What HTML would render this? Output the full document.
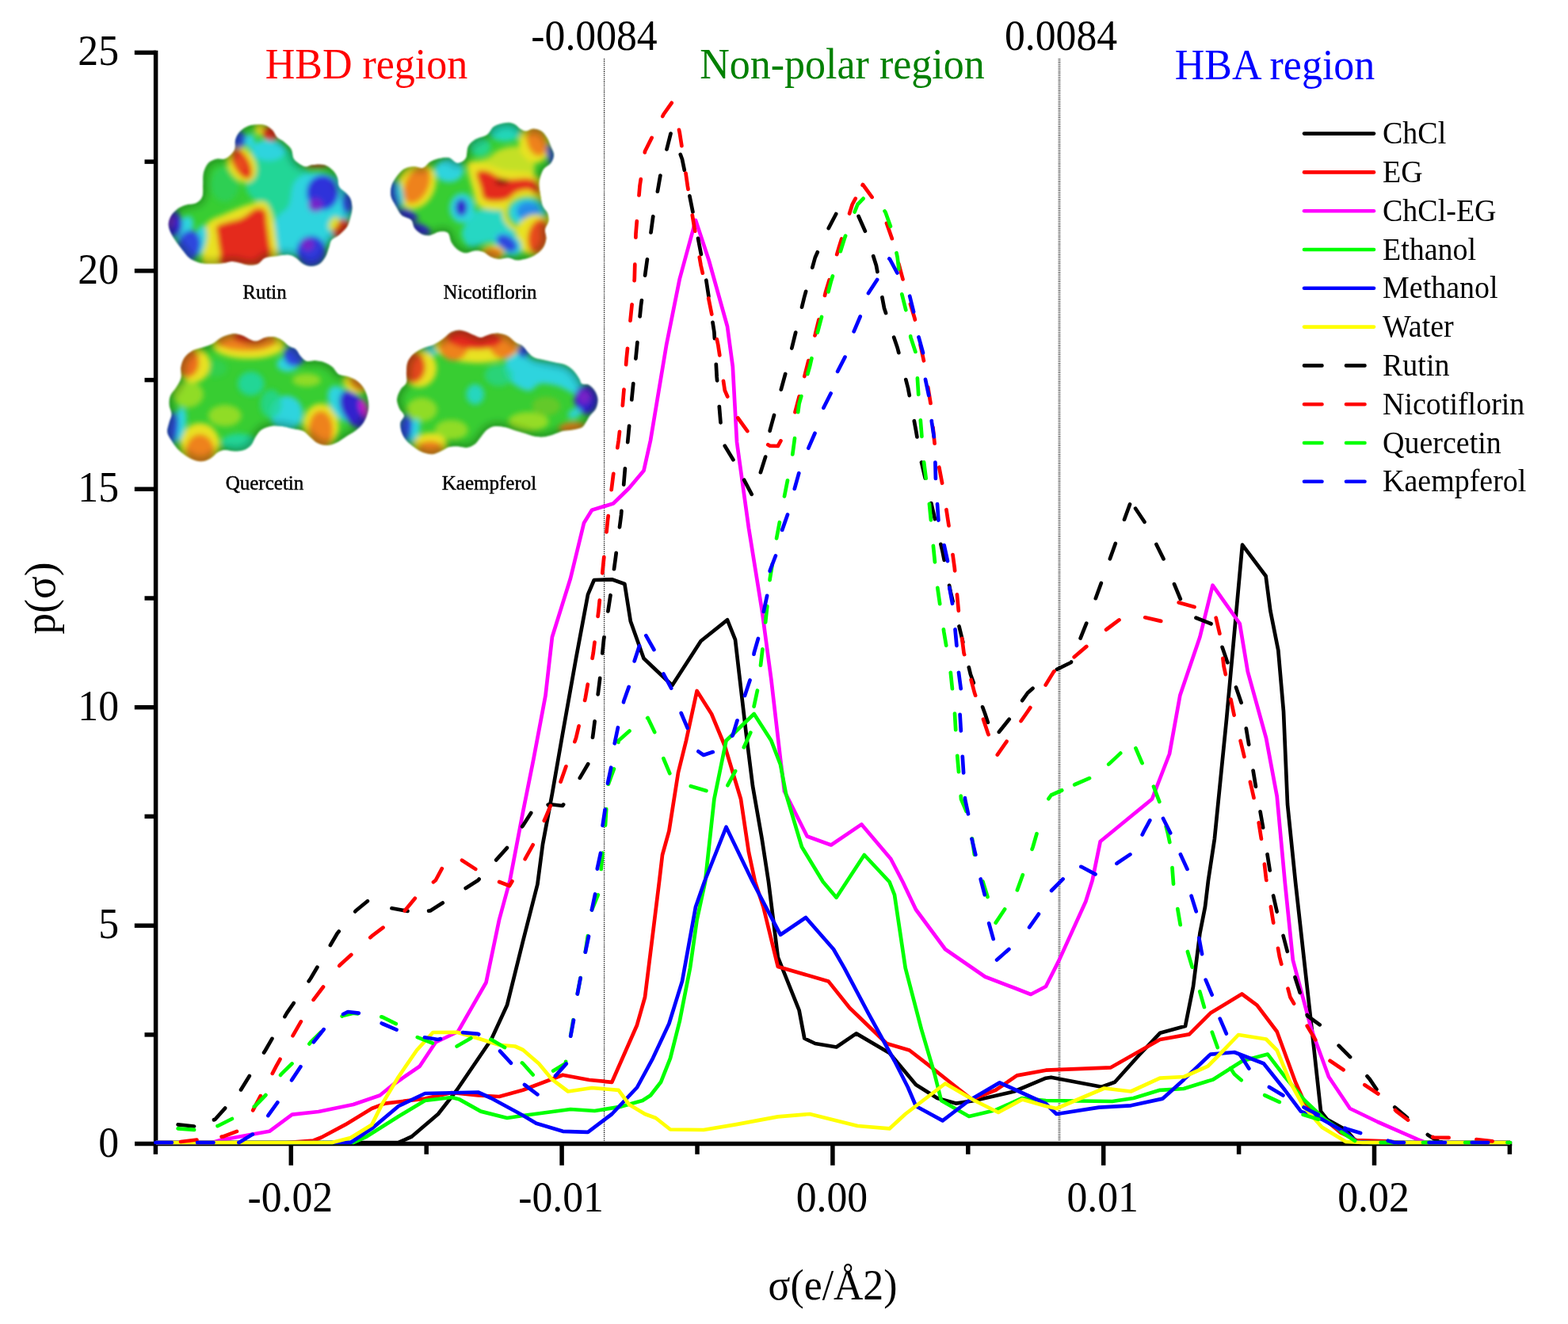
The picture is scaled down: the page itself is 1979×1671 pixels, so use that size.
<!DOCTYPE html>
<html lang="en"><head><meta charset="utf-8"><title>Sigma profiles</title>
<style>html,body{margin:0;padding:0;background:#fff}body{width:1979px;height:1671px;overflow:hidden}svg{display:block}text{font-family:"Liberation Serif","DejaVu Serif",serif;fill:#000}.tk{font-size:51.7px}.lg{font-size:38px}.rg{font-size:52px}.ml{font-size:25px;stroke:#000;stroke-width:0.45px}.c{fill:none;stroke-width:4.7;stroke-linejoin:round;stroke-linecap:butt}.d{stroke-dasharray:22 31.6;stroke-linecap:round}.dd{fill:none;stroke-width:4.7;stroke-linejoin:round;stroke-linecap:round}</style></head><body>
<svg width="1979" height="1671" viewBox="0 0 1979 1671">
<rect width="1979" height="1671" fill="#fff"/>
<defs><filter id="fb" x="-20%" y="-20%" width="140%" height="140%"><feGaussianBlur stdDeviation="3"/></filter><filter id="fs" x="-10%" y="-10%" width="120%" height="120%"><feGaussianBlur stdDeviation="1.3"/></filter><filter id="fe" x="-10%" y="-10%" width="120%" height="120%"><feGaussianBlur stdDeviation="5"/></filter>
<clipPath id="c_rutin"><path d="M324.1 157.2C327.6 157.1 331.4 156.8 334.6 157.9C337.9 159.1 341.1 161.4 343.6 163.9C346.1 166.4 347.1 170.4 349.6 172.9C352.1 175.4 355.5 176.4 358.5 178.9C361.5 181.4 365.5 184.4 367.5 187.9C369.5 191.4 369.0 196.8 370.5 199.8C372.0 202.8 374.0 204.1 376.5 205.8C379.0 207.6 382.5 209.9 385.5 210.3C388.5 210.7 390.4 208.4 394.4 208.1C398.4 207.7 405.2 206.9 409.4 208.1C413.6 209.2 417.1 212.2 419.9 214.8C422.6 217.4 424.5 220.3 425.8 223.8C427.2 227.2 426.3 232.5 428.1 235.7C429.8 239.0 433.9 240.7 436.3 243.2C438.7 245.7 440.9 247.4 442.3 250.7C443.7 253.9 444.5 258.7 444.5 262.6C444.5 266.6 443.4 270.6 442.3 274.6C441.2 278.6 440.3 282.8 437.8 286.6C435.3 290.3 430.6 294.3 427.3 297.0C424.1 299.8 420.4 300.5 418.4 303.0C416.4 305.5 416.6 308.5 415.4 312.0C414.1 315.5 412.9 320.5 410.9 324.0C408.9 327.5 406.4 330.9 403.4 332.9C400.4 334.9 396.4 335.9 392.9 335.9C389.5 335.9 385.7 334.7 382.5 332.9C379.2 331.2 376.5 327.3 373.5 325.5C370.5 323.6 368.5 322.1 364.5 321.7C360.5 321.3 354.6 322.6 349.6 323.2C344.6 323.8 338.6 323.8 334.6 325.5C330.6 327.1 329.1 331.4 325.6 332.9C322.1 334.4 317.7 334.7 313.7 334.4C309.7 334.2 305.2 332.2 301.7 331.4C298.2 330.7 296.2 329.8 292.7 329.9C289.2 330.1 285.3 331.7 280.8 332.2C276.3 332.7 270.8 333.1 265.8 332.9C260.8 332.8 255.3 332.7 250.9 331.4C246.4 330.2 242.4 328.2 238.9 325.5C235.4 322.7 232.9 318.7 229.9 315.0C226.9 311.3 223.4 306.8 220.9 303.0C218.4 299.3 216.3 296.0 215.0 292.6C213.6 289.1 212.5 285.6 212.7 282.1C213.0 278.6 214.3 274.9 216.5 271.6C218.6 268.4 222.2 264.9 225.4 262.6C228.7 260.4 232.2 259.3 235.9 258.2C239.6 257.0 244.6 257.7 247.9 255.9C251.1 254.2 254.0 251.6 255.3 247.7C256.7 243.8 255.8 237.7 256.1 232.7C256.3 227.7 255.7 222.3 256.8 217.8C258.0 213.3 260.1 208.7 262.8 205.8C265.6 202.9 269.5 201.6 273.3 200.6C277.0 199.6 281.5 201.7 285.3 199.8C289.0 198.0 293.7 193.3 295.7 189.4C297.7 185.4 296.0 179.9 297.2 175.9C298.5 171.9 300.5 168.3 303.2 165.4C305.9 162.6 310.2 160.1 313.7 158.7C317.2 157.3 320.7 157.3 324.1 157.2Z"/></clipPath>
<clipPath id="c_nico"><path d="M638.5 155.0C642.8 154.5 646.0 155.2 649.0 156.5C652.0 157.7 654.0 160.9 656.5 162.4C659.0 163.9 661.2 165.4 664.0 165.4C666.7 165.4 669.7 162.4 672.9 162.4C676.2 162.4 680.4 163.4 683.4 165.4C686.4 167.4 688.9 171.2 690.9 174.4C692.9 177.6 694.0 181.4 695.4 184.9C696.7 188.4 699.1 191.8 699.1 195.3C699.1 198.8 697.5 202.8 695.4 205.8C693.3 208.8 688.6 210.3 686.4 213.3C684.2 216.3 682.9 220.5 681.9 223.8C680.9 227.0 680.4 229.2 680.4 232.7C680.4 236.2 681.2 240.2 681.9 244.7C682.7 249.2 683.4 255.7 684.9 259.7C686.4 263.6 689.6 265.4 690.9 268.6C692.1 271.9 692.9 275.6 692.4 279.1C691.9 282.6 688.4 285.8 687.9 289.6C687.4 293.3 689.9 297.5 689.4 301.5C688.9 305.5 687.4 310.0 684.9 313.5C682.4 317.0 678.2 320.2 674.4 322.5C670.7 324.7 666.2 326.0 662.5 327.0C658.7 328.0 655.5 328.7 652.0 328.5C648.5 328.2 645.3 325.7 641.5 325.5C637.8 325.2 633.3 327.2 629.6 327.0C625.8 326.7 622.3 325.5 619.1 324.0C615.9 322.5 613.4 319.2 610.1 318.0C606.9 316.7 603.4 316.2 599.7 316.5C595.9 316.7 591.4 319.7 587.7 319.5C583.9 319.2 580.2 317.2 577.2 315.0C574.2 312.7 571.7 309.5 569.7 306.0C567.7 302.5 567.7 296.3 565.3 294.1C562.8 291.8 558.5 292.1 554.8 292.6C551.0 293.1 546.6 296.5 542.8 297.0C539.1 297.5 535.6 297.0 532.3 295.5C529.1 294.1 525.6 291.1 523.4 288.1C521.1 285.1 521.6 280.3 518.9 277.6C516.1 274.9 510.2 274.6 506.9 271.6C503.7 268.6 501.7 263.6 499.4 259.7C497.2 255.7 494.3 251.9 493.5 247.7C492.6 243.4 493.0 238.5 494.2 234.2C495.5 230.0 498.3 225.8 500.9 222.3C503.6 218.8 506.4 215.3 509.9 213.3C513.4 211.3 517.9 210.5 521.9 210.3C525.9 210.0 530.4 212.8 533.8 211.8C537.3 210.8 539.3 206.3 542.8 204.3C546.3 202.3 550.8 200.7 554.8 199.8C558.8 199.0 563.0 198.1 566.7 199.1C570.5 200.1 573.7 205.7 577.2 205.8C580.7 205.9 585.4 203.3 587.7 199.8C589.9 196.3 588.7 188.9 590.7 184.9C592.7 180.9 595.7 178.4 599.7 175.9C603.6 173.4 610.6 172.7 614.6 169.9C618.6 167.2 619.6 161.9 623.6 159.4C627.6 157.0 634.3 155.5 638.5 155.0Z"/></clipPath>
<clipPath id="c_quer"><path d="M292.7 421.4C297.0 420.9 300.7 421.7 304.7 422.9C308.7 424.2 313.4 427.6 316.7 428.9C319.9 430.1 321.1 430.9 324.1 430.4C327.1 429.9 331.1 426.8 334.6 425.9C338.1 425.0 341.6 424.6 345.1 425.1C348.6 425.6 352.3 427.0 355.5 428.9C358.8 430.8 361.5 434.4 364.5 436.4C367.5 438.4 371.0 438.6 373.5 440.9C376.0 443.1 377.2 447.3 379.5 449.8C381.7 452.3 384.0 454.9 387.0 455.8C389.9 456.7 393.7 454.8 397.4 455.1C401.2 455.3 405.7 455.9 409.4 457.3C413.1 458.7 416.9 460.8 419.9 463.3C422.9 465.8 424.1 470.3 427.3 472.3C430.6 474.3 435.3 473.8 439.3 475.3C443.3 476.7 447.8 478.5 451.3 481.2C454.8 484.0 458.0 487.7 460.2 491.7C462.5 495.7 464.0 500.7 464.7 505.2C465.5 509.7 465.7 513.9 464.7 518.6C463.7 523.4 461.5 529.3 458.7 533.6C456.0 537.8 452.0 541.1 448.3 544.1C444.5 547.0 440.3 549.0 436.3 551.5C432.3 554.0 428.3 557.3 424.3 559.0C420.4 560.8 416.4 562.0 412.4 562.0C408.4 562.0 403.9 560.8 400.4 559.0C396.9 557.3 394.4 554.0 391.4 551.5C388.5 549.0 386.2 545.8 382.5 544.1C378.7 542.3 373.5 542.1 369.0 541.1C364.5 540.1 360.0 538.6 355.5 538.1C351.1 537.6 346.3 537.3 342.1 538.1C337.9 538.8 333.4 540.3 330.1 542.6C326.9 544.8 324.9 548.3 322.6 551.5C320.4 554.8 319.2 559.3 316.7 562.0C314.2 564.7 311.2 566.7 307.7 568.0C304.2 569.2 299.7 569.5 295.7 569.5C291.7 569.5 287.2 567.7 283.8 568.0C280.3 568.2 277.8 569.2 274.8 571.0C271.8 572.7 269.0 576.6 265.8 578.5C262.6 580.3 259.1 581.9 255.3 582.2C251.6 582.4 247.1 581.3 243.4 579.9C239.6 578.6 236.1 576.2 232.9 574.0C229.7 571.7 226.7 569.5 223.9 566.5C221.2 563.5 218.6 559.5 216.5 556.0C214.3 552.5 211.7 549.3 211.2 545.5C210.7 541.8 212.6 537.3 213.5 533.6C214.3 529.8 216.5 526.9 216.5 523.1C216.5 519.4 213.7 515.1 213.5 511.1C213.2 507.2 213.5 502.9 215.0 499.2C216.5 495.4 220.2 492.5 222.4 488.7C224.7 485.0 227.4 481.0 228.4 476.7C229.4 472.5 227.7 467.5 228.4 463.3C229.2 459.0 230.4 454.8 232.9 451.3C235.4 447.8 239.4 444.6 243.4 442.3C247.4 440.1 252.6 439.4 256.8 437.9C261.1 436.4 265.1 435.4 268.8 433.4C272.5 431.4 275.3 427.9 279.3 425.9C283.3 423.9 288.5 421.9 292.7 421.4Z"/></clipPath>
<clipPath id="c_kaem"><path d="M577.2 416.9C580.5 416.7 584.2 417.4 587.7 418.4C591.2 419.4 594.9 421.7 598.2 422.9C601.4 424.2 603.9 426.0 607.1 425.9C610.4 425.8 613.9 423.0 617.6 422.2C621.3 421.3 625.6 420.3 629.6 420.7C633.6 421.0 638.0 422.5 641.5 424.4C645.0 426.3 647.5 429.9 650.5 431.9C653.5 433.9 656.7 434.1 659.5 436.4C662.2 438.6 664.5 442.8 667.0 445.3C669.5 447.8 671.2 449.8 674.4 451.3C677.7 452.8 682.2 453.3 686.4 454.3C690.6 455.3 695.4 456.3 699.9 457.3C704.3 458.3 709.3 458.6 713.3 460.3C717.3 462.0 720.8 464.8 723.8 467.8C726.8 470.8 729.5 475.5 731.3 478.2C733.0 481.0 732.3 483.0 734.3 484.2C736.3 485.5 740.5 484.2 743.2 485.7C746.0 487.2 748.8 490.2 750.7 493.2C752.6 496.2 754.2 499.9 754.5 503.7C754.7 507.4 753.8 512.1 752.2 515.6C750.6 519.1 746.7 521.9 744.7 524.6C742.7 527.4 742.0 529.6 740.2 532.1C738.5 534.6 737.3 537.8 734.3 539.6C731.3 541.3 726.3 541.8 722.3 542.6C718.3 543.3 714.3 543.1 710.3 544.1C706.3 545.1 702.4 547.3 698.4 548.5C694.4 549.8 690.4 551.2 686.4 551.5C682.4 551.9 678.4 551.5 674.4 550.8C670.4 550.0 666.2 548.2 662.5 547.0C658.7 545.9 656.0 545.3 652.0 544.1C648.0 542.8 643.0 540.6 638.5 539.6C634.1 538.6 629.1 537.6 625.1 538.1C621.1 538.6 617.6 540.3 614.6 542.6C611.6 544.8 609.6 548.5 607.1 551.5C604.6 554.5 602.6 558.3 599.7 560.5C596.7 562.7 592.9 564.5 589.2 565.0C585.4 565.5 581.0 563.6 577.2 563.5C573.5 563.4 570.2 563.2 566.7 564.2C563.3 565.2 559.8 568.0 556.3 569.5C552.8 571.0 549.5 573.0 545.8 573.2C542.1 573.5 537.6 572.3 533.8 571.0C530.1 569.6 526.9 567.5 523.4 565.0C519.9 562.5 515.6 559.3 512.9 556.0C510.2 552.8 508.2 549.3 506.9 545.5C505.7 541.8 504.9 537.1 505.4 533.6C505.9 530.1 510.2 527.6 509.9 524.6C509.7 521.6 505.4 519.1 503.9 515.6C502.4 512.1 500.7 507.7 500.9 503.7C501.2 499.7 503.4 495.2 505.4 491.7C507.4 488.2 511.7 486.2 512.9 482.7C514.2 479.2 512.7 475.0 512.9 470.8C513.2 466.5 512.9 461.3 514.4 457.3C515.9 453.3 518.6 449.8 521.9 446.8C525.1 443.8 529.6 441.4 533.8 439.4C538.1 437.4 543.1 436.9 547.3 434.9C551.5 432.9 555.8 429.9 559.3 427.4C562.8 424.9 565.3 421.7 568.2 419.9C571.2 418.2 574.0 417.2 577.2 416.9Z"/></clipPath>
</defs>
<g filter="url(#fs)"><g clip-path="url(#c_rutin)">
<path d="M324.1 157.2C327.6 157.1 331.4 156.8 334.6 157.9C337.9 159.1 341.1 161.4 343.6 163.9C346.1 166.4 347.1 170.4 349.6 172.9C352.1 175.4 355.5 176.4 358.5 178.9C361.5 181.4 365.5 184.4 367.5 187.9C369.5 191.4 369.0 196.8 370.5 199.8C372.0 202.8 374.0 204.1 376.5 205.8C379.0 207.6 382.5 209.9 385.5 210.3C388.5 210.7 390.4 208.4 394.4 208.1C398.4 207.7 405.2 206.9 409.4 208.1C413.6 209.2 417.1 212.2 419.9 214.8C422.6 217.4 424.5 220.3 425.8 223.8C427.2 227.2 426.3 232.5 428.1 235.7C429.8 239.0 433.9 240.7 436.3 243.2C438.7 245.7 440.9 247.4 442.3 250.7C443.7 253.9 444.5 258.7 444.5 262.6C444.5 266.6 443.4 270.6 442.3 274.6C441.2 278.6 440.3 282.8 437.8 286.6C435.3 290.3 430.6 294.3 427.3 297.0C424.1 299.8 420.4 300.5 418.4 303.0C416.4 305.5 416.6 308.5 415.4 312.0C414.1 315.5 412.9 320.5 410.9 324.0C408.9 327.5 406.4 330.9 403.4 332.9C400.4 334.9 396.4 335.9 392.9 335.9C389.5 335.9 385.7 334.7 382.5 332.9C379.2 331.2 376.5 327.3 373.5 325.5C370.5 323.6 368.5 322.1 364.5 321.7C360.5 321.3 354.6 322.6 349.6 323.2C344.6 323.8 338.6 323.8 334.6 325.5C330.6 327.1 329.1 331.4 325.6 332.9C322.1 334.4 317.7 334.7 313.7 334.4C309.7 334.2 305.2 332.2 301.7 331.4C298.2 330.7 296.2 329.8 292.7 329.9C289.2 330.1 285.3 331.7 280.8 332.2C276.3 332.7 270.8 333.1 265.8 332.9C260.8 332.8 255.3 332.7 250.9 331.4C246.4 330.2 242.4 328.2 238.9 325.5C235.4 322.7 232.9 318.7 229.9 315.0C226.9 311.3 223.4 306.8 220.9 303.0C218.4 299.3 216.3 296.0 215.0 292.6C213.6 289.1 212.5 285.6 212.7 282.1C213.0 278.6 214.3 274.9 216.5 271.6C218.6 268.4 222.2 264.9 225.4 262.6C228.7 260.4 232.2 259.3 235.9 258.2C239.6 257.0 244.6 257.7 247.9 255.9C251.1 254.2 254.0 251.6 255.3 247.7C256.7 243.8 255.8 237.7 256.1 232.7C256.3 227.7 255.7 222.3 256.8 217.8C258.0 213.3 260.1 208.7 262.8 205.8C265.6 202.9 269.5 201.6 273.3 200.6C277.0 199.6 281.5 201.7 285.3 199.8C289.0 198.0 293.7 193.3 295.7 189.4C297.7 185.4 296.0 179.9 297.2 175.9C298.5 171.9 300.5 168.3 303.2 165.4C305.9 162.6 310.2 160.1 313.7 158.7C317.2 157.3 320.7 157.3 324.1 157.2Z" fill="#37cd32"/>
<g filter="url(#fb)">
<path d="M316.7 184.9C319.4 181.1 326.6 176.9 334.6 177.4C342.6 177.9 357.5 182.9 364.5 187.9C371.5 192.8 372.5 202.8 376.5 207.3C380.5 211.8 385.5 211.0 388.5 214.8C391.4 218.5 394.7 224.8 394.4 229.7C394.2 234.7 390.7 242.2 387.0 244.7C383.2 247.2 375.7 241.0 372.0 244.7C368.3 248.4 368.3 262.1 364.5 267.1C360.8 272.1 353.1 270.9 349.6 274.6C346.1 278.3 345.3 290.8 343.6 289.6C341.8 288.3 341.8 272.6 339.1 267.1C336.4 261.6 331.4 260.4 327.1 256.7C322.9 252.9 316.4 249.2 313.7 244.7C310.9 240.2 309.7 234.7 310.7 229.7C311.7 224.8 318.4 219.8 319.7 214.8C320.9 209.8 318.7 204.8 318.2 199.8C317.7 194.8 313.9 188.6 316.7 184.9Z" fill="#23d696"/>
<path d="M372.0 229.7C377.0 222.8 385.7 218.8 394.4 217.8C403.2 216.8 416.4 219.3 424.3 223.8C432.3 228.2 438.8 237.5 442.3 244.7C445.8 251.9 446.8 259.7 445.3 267.1C443.8 274.6 438.1 283.3 433.3 289.6C428.6 295.8 422.1 298.3 416.9 304.5C411.6 310.8 409.4 323.7 401.9 327.0C394.4 330.2 380.7 325.2 372.0 324.0C363.3 322.7 354.3 324.0 349.6 319.5C344.8 315.0 343.6 304.5 343.6 297.0C343.6 289.6 346.1 280.8 349.6 274.6C353.1 268.4 360.8 267.1 364.5 259.7C368.3 252.2 367.0 236.7 372.0 229.7Z" fill="#2dd4de"/>
<ellipse cx="339.1" cy="189.4" rx="20.9" ry="13.5" fill="#2dd4de"/>
<ellipse cx="283.8" cy="232.7" rx="17.9" ry="22.4" fill="#2dd05a" opacity="0.80"/>
<path d="M261.3 282.1C265.4 276.4 275.0 274.1 283.8 270.1C292.5 266.1 305.2 260.7 313.7 258.2C322.1 255.7 329.5 252.4 334.6 255.2C339.7 257.9 342.0 266.4 344.3 274.6C346.7 282.8 347.8 295.8 348.8 304.5C349.8 313.2 352.7 321.5 350.3 327.0C347.9 332.4 349.4 335.7 334.6 337.4C319.8 339.2 273.9 342.9 261.3 337.4C248.7 331.9 259.1 313.7 259.1 304.5C259.1 295.3 257.2 287.8 261.3 282.1Z" fill="#e8e220"/>
<path d="M275.5 284.3C280.6 280.7 296.8 278.8 304.7 275.4C312.5 271.9 317.7 264.9 322.6 263.4C327.6 261.9 332.2 263.3 334.6 266.4C337.0 269.5 336.0 275.7 336.9 282.1C337.7 288.4 339.0 297.8 339.8 304.5C340.7 311.3 343.0 317.2 342.1 322.5C341.2 327.7 344.8 333.7 334.6 335.9C324.4 338.2 290.2 338.7 280.8 335.9C271.3 333.2 278.8 326.0 277.8 319.5C276.7 313.0 274.9 302.9 274.5 297.0C274.1 291.2 270.5 287.9 275.5 284.3Z" fill="#e42a1c"/>
<ellipse cx="304.7" cy="207.3" rx="17.2" ry="24.7" fill="#e8e220" transform="rotate(-28 304.7 207.3)"/>
<ellipse cx="304.7" cy="206.6" rx="9.6" ry="20.6" fill="#e42a1c" transform="rotate(-28 304.7 206.6)"/>
<ellipse cx="303.2" cy="205.8" rx="4.5" ry="12.0" fill="#eb5a1e" transform="rotate(-28 303.2 205.8)" opacity="0.80"/>
<ellipse cx="300.2" cy="175.9" rx="10.5" ry="10.8" fill="#2d46de"/>
<ellipse cx="315.2" cy="178.1" rx="6.3" ry="9.0" fill="#2dd4de"/>
<ellipse cx="328.6" cy="162.4" rx="7.5" ry="8.2" fill="#e8e220"/>
<ellipse cx="342.1" cy="167.7" rx="10.8" ry="9.7" fill="#e42a1c"/>
<ellipse cx="407.1" cy="243.2" rx="20.2" ry="22.1" fill="#2d32da"/>
<ellipse cx="398.2" cy="258.9" rx="9.3" ry="8.7" fill="#7d23c8" opacity="0.90"/>
<ellipse cx="439.3" cy="255.2" rx="7.8" ry="14.2" fill="#2d46de"/>
<ellipse cx="392.9" cy="318.0" rx="18.7" ry="20.2" fill="#2d37da"/>
<ellipse cx="388.5" cy="309.0" rx="7.8" ry="7.8" fill="#7d23c8" opacity="0.90"/>
<ellipse cx="232.2" cy="289.6" rx="9.7" ry="17.9" fill="#2dd4de" transform="rotate(25 232.2 289.6)"/>
<ellipse cx="217.2" cy="282.8" rx="12.7" ry="17.2" fill="#3223cd"/>
<ellipse cx="215.0" cy="279.1" rx="6.0" ry="7.5" fill="#7d23c8" opacity="0.80"/>
<ellipse cx="253.1" cy="303.0" rx="7.5" ry="18.7" fill="#2dd4de" transform="rotate(10 253.1 303.0)"/>
<ellipse cx="238.1" cy="310.5" rx="14.7" ry="20.2" fill="#2d46de" transform="rotate(15 238.1 310.5)"/>
<ellipse cx="431.8" cy="289.6" rx="10.8" ry="13.2" fill="#e42a1c" transform="rotate(30 431.8 289.6)"/>
<ellipse cx="400.4" cy="207.3" rx="15.0" ry="3.7" fill="#e42a1c" opacity="0.90"/>
<ellipse cx="421.4" cy="282.1" rx="6.0" ry="9.7" fill="#e8e220" transform="rotate(30 421.4 282.1)" opacity="0.90"/>
</g>
<path d="M324.1 157.2C327.6 157.1 331.4 156.8 334.6 157.9C337.9 159.1 341.1 161.4 343.6 163.9C346.1 166.4 347.1 170.4 349.6 172.9C352.1 175.4 355.5 176.4 358.5 178.9C361.5 181.4 365.5 184.4 367.5 187.9C369.5 191.4 369.0 196.8 370.5 199.8C372.0 202.8 374.0 204.1 376.5 205.8C379.0 207.6 382.5 209.9 385.5 210.3C388.5 210.7 390.4 208.4 394.4 208.1C398.4 207.7 405.2 206.9 409.4 208.1C413.6 209.2 417.1 212.2 419.9 214.8C422.6 217.4 424.5 220.3 425.8 223.8C427.2 227.2 426.3 232.5 428.1 235.7C429.8 239.0 433.9 240.7 436.3 243.2C438.7 245.7 440.9 247.4 442.3 250.7C443.7 253.9 444.5 258.7 444.5 262.6C444.5 266.6 443.4 270.6 442.3 274.6C441.2 278.6 440.3 282.8 437.8 286.6C435.3 290.3 430.6 294.3 427.3 297.0C424.1 299.8 420.4 300.5 418.4 303.0C416.4 305.5 416.6 308.5 415.4 312.0C414.1 315.5 412.9 320.5 410.9 324.0C408.9 327.5 406.4 330.9 403.4 332.9C400.4 334.9 396.4 335.9 392.9 335.9C389.5 335.9 385.7 334.7 382.5 332.9C379.2 331.2 376.5 327.3 373.5 325.5C370.5 323.6 368.5 322.1 364.5 321.7C360.5 321.3 354.6 322.6 349.6 323.2C344.6 323.8 338.6 323.8 334.6 325.5C330.6 327.1 329.1 331.4 325.6 332.9C322.1 334.4 317.7 334.7 313.7 334.4C309.7 334.2 305.2 332.2 301.7 331.4C298.2 330.7 296.2 329.8 292.7 329.9C289.2 330.1 285.3 331.7 280.8 332.2C276.3 332.7 270.8 333.1 265.8 332.9C260.8 332.8 255.3 332.7 250.9 331.4C246.4 330.2 242.4 328.2 238.9 325.5C235.4 322.7 232.9 318.7 229.9 315.0C226.9 311.3 223.4 306.8 220.9 303.0C218.4 299.3 216.3 296.0 215.0 292.6C213.6 289.1 212.5 285.6 212.7 282.1C213.0 278.6 214.3 274.9 216.5 271.6C218.6 268.4 222.2 264.9 225.4 262.6C228.7 260.4 232.2 259.3 235.9 258.2C239.6 257.0 244.6 257.7 247.9 255.9C251.1 254.2 254.0 251.6 255.3 247.7C256.7 243.8 255.8 237.7 256.1 232.7C256.3 227.7 255.7 222.3 256.8 217.8C258.0 213.3 260.1 208.7 262.8 205.8C265.6 202.9 269.5 201.6 273.3 200.6C277.0 199.6 281.5 201.7 285.3 199.8C289.0 198.0 293.7 193.3 295.7 189.4C297.7 185.4 296.0 179.9 297.2 175.9C298.5 171.9 300.5 168.3 303.2 165.4C305.9 162.6 310.2 160.1 313.7 158.7C317.2 157.3 320.7 157.3 324.1 157.2Z" fill="none" stroke="#002a10" stroke-opacity="0.38" stroke-width="9" filter="url(#fe)"/>
</g></g>
<g filter="url(#fs)"><g clip-path="url(#c_nico)">
<path d="M638.5 155.0C642.8 154.5 646.0 155.2 649.0 156.5C652.0 157.7 654.0 160.9 656.5 162.4C659.0 163.9 661.2 165.4 664.0 165.4C666.7 165.4 669.7 162.4 672.9 162.4C676.2 162.4 680.4 163.4 683.4 165.4C686.4 167.4 688.9 171.2 690.9 174.4C692.9 177.6 694.0 181.4 695.4 184.9C696.7 188.4 699.1 191.8 699.1 195.3C699.1 198.8 697.5 202.8 695.4 205.8C693.3 208.8 688.6 210.3 686.4 213.3C684.2 216.3 682.9 220.5 681.9 223.8C680.9 227.0 680.4 229.2 680.4 232.7C680.4 236.2 681.2 240.2 681.9 244.7C682.7 249.2 683.4 255.7 684.9 259.7C686.4 263.6 689.6 265.4 690.9 268.6C692.1 271.9 692.9 275.6 692.4 279.1C691.9 282.6 688.4 285.8 687.9 289.6C687.4 293.3 689.9 297.5 689.4 301.5C688.9 305.5 687.4 310.0 684.9 313.5C682.4 317.0 678.2 320.2 674.4 322.5C670.7 324.7 666.2 326.0 662.5 327.0C658.7 328.0 655.5 328.7 652.0 328.5C648.5 328.2 645.3 325.7 641.5 325.5C637.8 325.2 633.3 327.2 629.6 327.0C625.8 326.7 622.3 325.5 619.1 324.0C615.9 322.5 613.4 319.2 610.1 318.0C606.9 316.7 603.4 316.2 599.7 316.5C595.9 316.7 591.4 319.7 587.7 319.5C583.9 319.2 580.2 317.2 577.2 315.0C574.2 312.7 571.7 309.5 569.7 306.0C567.7 302.5 567.7 296.3 565.3 294.1C562.8 291.8 558.5 292.1 554.8 292.6C551.0 293.1 546.6 296.5 542.8 297.0C539.1 297.5 535.6 297.0 532.3 295.5C529.1 294.1 525.6 291.1 523.4 288.1C521.1 285.1 521.6 280.3 518.9 277.6C516.1 274.9 510.2 274.6 506.9 271.6C503.7 268.6 501.7 263.6 499.4 259.7C497.2 255.7 494.3 251.9 493.5 247.7C492.6 243.4 493.0 238.5 494.2 234.2C495.5 230.0 498.3 225.8 500.9 222.3C503.6 218.8 506.4 215.3 509.9 213.3C513.4 211.3 517.9 210.5 521.9 210.3C525.9 210.0 530.4 212.8 533.8 211.8C537.3 210.8 539.3 206.3 542.8 204.3C546.3 202.3 550.8 200.7 554.8 199.8C558.8 199.0 563.0 198.1 566.7 199.1C570.5 200.1 573.7 205.7 577.2 205.8C580.7 205.9 585.4 203.3 587.7 199.8C589.9 196.3 588.7 188.9 590.7 184.9C592.7 180.9 595.7 178.4 599.7 175.9C603.6 173.4 610.6 172.7 614.6 169.9C618.6 167.2 619.6 161.9 623.6 159.4C627.6 157.0 634.3 155.5 638.5 155.0Z" fill="#37cd32"/>
<g filter="url(#fb)">
<ellipse cx="637.0" cy="166.2" rx="20.2" ry="12.3" fill="#23d7b9"/>
<ellipse cx="605.6" cy="184.9" rx="13.5" ry="12.0" fill="#23d696" opacity="0.90"/>
<path d="M614.6 199.8C621.6 196.8 623.3 191.8 629.6 189.4C635.8 186.9 645.8 184.4 652.0 184.9C658.2 185.4 663.2 188.6 667.0 192.3C670.7 196.1 673.7 202.1 674.4 207.3C675.2 212.5 675.2 221.0 671.4 223.8C667.7 226.5 659.0 225.3 652.0 223.8C645.0 222.3 637.0 216.8 629.6 214.8C622.1 212.8 614.1 213.0 607.1 211.8C600.2 210.5 586.4 209.3 587.7 207.3C588.9 205.3 607.6 202.8 614.6 199.8Z" fill="#c3e028"/>
<ellipse cx="674.4" cy="181.9" rx="19.4" ry="23.9" fill="#e8e220" transform="rotate(-15 674.4 181.9)"/>
<ellipse cx="677.4" cy="178.1" rx="12.3" ry="19.1" fill="#ee821e" transform="rotate(-15 677.4 178.1)"/>
<ellipse cx="696.1" cy="197.6" rx="4.8" ry="15.0" fill="#2d46de" transform="rotate(-15 696.1 197.6)"/>
<ellipse cx="566.7" cy="214.8" rx="18.2" ry="15.0" fill="#2dd4de"/>
<ellipse cx="524.9" cy="234.2" rx="23.9" ry="30.7" fill="#e8e220" transform="rotate(25 524.9 234.2)"/>
<ellipse cx="526.1" cy="233.5" rx="14.7" ry="24.7" fill="#ee821e" transform="rotate(25 526.1 233.5)"/>
<ellipse cx="495.7" cy="246.2" rx="8.2" ry="19.7" fill="#2d46de" transform="rotate(-10 495.7 246.2)"/>
<ellipse cx="504.7" cy="244.7" rx="4.5" ry="16.5" fill="#2dd4de" transform="rotate(-10 504.7 244.7)" opacity="0.90"/>
<ellipse cx="514.1" cy="271.6" rx="13.8" ry="6.6" fill="#3223cd" transform="rotate(25 514.1 271.6)"/>
<ellipse cx="529.4" cy="289.6" rx="14.7" ry="6.9" fill="#3223cd" transform="rotate(20 529.4 289.6)"/>
<path d="M599.7 267.1C605.4 264.1 614.6 263.4 622.1 264.1C629.6 264.9 639.5 267.4 644.5 271.6C649.5 275.9 653.2 284.3 652.0 289.6C650.8 294.8 643.3 300.3 637.0 303.0C630.8 305.8 621.8 304.5 614.6 306.0C607.4 307.5 598.9 313.5 593.7 312.0C588.4 310.5 584.2 302.0 583.2 297.0C582.2 292.1 584.9 287.1 587.7 282.1C590.4 277.1 593.9 270.1 599.7 267.1Z" fill="#28d7c3"/>
<ellipse cx="583.2" cy="262.6" rx="15.7" ry="18.7" fill="#2dd4de"/>
<ellipse cx="582.2" cy="261.9" rx="7.5" ry="10.8" fill="#3223cd"/>
<path d="M590.7 205.8C593.5 200.1 606.9 205.8 614.6 207.3C622.3 208.8 628.3 213.0 637.0 214.8C645.8 216.5 659.0 215.3 667.0 217.8C674.9 220.3 681.5 223.5 684.9 229.7C688.3 236.0 690.1 251.9 687.1 255.2C684.2 258.4 672.8 249.2 667.0 249.2C661.1 249.2 656.2 252.8 652.0 255.2C647.8 257.5 646.5 261.8 641.5 263.4C636.5 265.0 628.3 265.5 622.1 264.9C615.9 264.3 608.3 263.5 604.1 259.7C600.0 255.8 599.7 250.7 597.4 241.7C595.2 232.7 587.8 211.5 590.7 205.8Z" fill="#e8e220"/>
<path d="M601.9 217.8C603.2 214.2 610.0 215.0 614.6 216.0C619.2 216.9 624.6 221.7 629.6 223.5C634.6 225.2 638.3 226.1 644.5 226.4C650.8 226.8 661.1 224.5 667.0 225.6C672.8 226.6 677.3 229.4 679.7 232.7C682.0 236.0 683.3 244.3 681.2 245.4C679.0 246.6 671.8 240.0 667.0 239.5C662.1 239.0 656.2 240.5 652.0 242.5C647.8 244.4 645.8 249.1 641.5 251.0C637.3 252.9 631.6 254.0 626.6 254.0C621.5 254.0 614.6 253.8 611.3 251.0C608.0 248.2 608.4 242.8 606.8 237.2C605.3 231.7 600.6 221.3 601.9 217.8Z" fill="#e42a1c"/>
<ellipse cx="633.3" cy="229.7" rx="8.7" ry="3.6" fill="#731410" opacity="0.90"/>
<ellipse cx="666.2" cy="268.6" rx="32.2" ry="26.2" fill="#e8e220"/>
<ellipse cx="666.2" cy="268.6" rx="26.9" ry="21.2" fill="#37cd32"/>
<ellipse cx="665.5" cy="267.9" rx="22.4" ry="16.8" fill="#2dd4de"/>
<ellipse cx="666.7" cy="266.4" rx="15.0" ry="11.7" fill="#288ce8"/>
<ellipse cx="675.9" cy="297.0" rx="24.7" ry="26.2" fill="#e8e220"/>
<ellipse cx="680.1" cy="298.8" rx="13.8" ry="22.1" fill="#e84b1e" transform="rotate(10 680.1 298.8)"/>
<ellipse cx="640.8" cy="307.5" rx="19.4" ry="13.8" fill="#2dd4de" transform="rotate(35 640.8 307.5)"/>
<ellipse cx="639.7" cy="306.8" rx="14.5" ry="9.0" fill="#2d46de" transform="rotate(35 639.7 306.8)"/>
<ellipse cx="621.8" cy="319.5" rx="15.0" ry="10.2" fill="#e8e220"/>
<ellipse cx="621.8" cy="320.2" rx="12.0" ry="7.8" fill="#ee821e"/>
</g>
<path d="M638.5 155.0C642.8 154.5 646.0 155.2 649.0 156.5C652.0 157.7 654.0 160.9 656.5 162.4C659.0 163.9 661.2 165.4 664.0 165.4C666.7 165.4 669.7 162.4 672.9 162.4C676.2 162.4 680.4 163.4 683.4 165.4C686.4 167.4 688.9 171.2 690.9 174.4C692.9 177.6 694.0 181.4 695.4 184.9C696.7 188.4 699.1 191.8 699.1 195.3C699.1 198.8 697.5 202.8 695.4 205.8C693.3 208.8 688.6 210.3 686.4 213.3C684.2 216.3 682.9 220.5 681.9 223.8C680.9 227.0 680.4 229.2 680.4 232.7C680.4 236.2 681.2 240.2 681.9 244.7C682.7 249.2 683.4 255.7 684.9 259.7C686.4 263.6 689.6 265.4 690.9 268.6C692.1 271.9 692.9 275.6 692.4 279.1C691.9 282.6 688.4 285.8 687.9 289.6C687.4 293.3 689.9 297.5 689.4 301.5C688.9 305.5 687.4 310.0 684.9 313.5C682.4 317.0 678.2 320.2 674.4 322.5C670.7 324.7 666.2 326.0 662.5 327.0C658.7 328.0 655.5 328.7 652.0 328.5C648.5 328.2 645.3 325.7 641.5 325.5C637.8 325.2 633.3 327.2 629.6 327.0C625.8 326.7 622.3 325.5 619.1 324.0C615.9 322.5 613.4 319.2 610.1 318.0C606.9 316.7 603.4 316.2 599.7 316.5C595.9 316.7 591.4 319.7 587.7 319.5C583.9 319.2 580.2 317.2 577.2 315.0C574.2 312.7 571.7 309.5 569.7 306.0C567.7 302.5 567.7 296.3 565.3 294.1C562.8 291.8 558.5 292.1 554.8 292.6C551.0 293.1 546.6 296.5 542.8 297.0C539.1 297.5 535.6 297.0 532.3 295.5C529.1 294.1 525.6 291.1 523.4 288.1C521.1 285.1 521.6 280.3 518.9 277.6C516.1 274.9 510.2 274.6 506.9 271.6C503.7 268.6 501.7 263.6 499.4 259.7C497.2 255.7 494.3 251.9 493.5 247.7C492.6 243.4 493.0 238.5 494.2 234.2C495.5 230.0 498.3 225.8 500.9 222.3C503.6 218.8 506.4 215.3 509.9 213.3C513.4 211.3 517.9 210.5 521.9 210.3C525.9 210.0 530.4 212.8 533.8 211.8C537.3 210.8 539.3 206.3 542.8 204.3C546.3 202.3 550.8 200.7 554.8 199.8C558.8 199.0 563.0 198.1 566.7 199.1C570.5 200.1 573.7 205.7 577.2 205.8C580.7 205.9 585.4 203.3 587.7 199.8C589.9 196.3 588.7 188.9 590.7 184.9C592.7 180.9 595.7 178.4 599.7 175.9C603.6 173.4 610.6 172.7 614.6 169.9C618.6 167.2 619.6 161.9 623.6 159.4C627.6 157.0 634.3 155.5 638.5 155.0Z" fill="none" stroke="#002a10" stroke-opacity="0.38" stroke-width="9" filter="url(#fe)"/>
</g></g>
<g filter="url(#fs)"><g clip-path="url(#c_quer)">
<path d="M292.7 421.4C297.0 420.9 300.7 421.7 304.7 422.9C308.7 424.2 313.4 427.6 316.7 428.9C319.9 430.1 321.1 430.9 324.1 430.4C327.1 429.9 331.1 426.8 334.6 425.9C338.1 425.0 341.6 424.6 345.1 425.1C348.6 425.6 352.3 427.0 355.5 428.9C358.8 430.8 361.5 434.4 364.5 436.4C367.5 438.4 371.0 438.6 373.5 440.9C376.0 443.1 377.2 447.3 379.5 449.8C381.7 452.3 384.0 454.9 387.0 455.8C389.9 456.7 393.7 454.8 397.4 455.1C401.2 455.3 405.7 455.9 409.4 457.3C413.1 458.7 416.9 460.8 419.9 463.3C422.9 465.8 424.1 470.3 427.3 472.3C430.6 474.3 435.3 473.8 439.3 475.3C443.3 476.7 447.8 478.5 451.3 481.2C454.8 484.0 458.0 487.7 460.2 491.7C462.5 495.7 464.0 500.7 464.7 505.2C465.5 509.7 465.7 513.9 464.7 518.6C463.7 523.4 461.5 529.3 458.7 533.6C456.0 537.8 452.0 541.1 448.3 544.1C444.5 547.0 440.3 549.0 436.3 551.5C432.3 554.0 428.3 557.3 424.3 559.0C420.4 560.8 416.4 562.0 412.4 562.0C408.4 562.0 403.9 560.8 400.4 559.0C396.9 557.3 394.4 554.0 391.4 551.5C388.5 549.0 386.2 545.8 382.5 544.1C378.7 542.3 373.5 542.1 369.0 541.1C364.5 540.1 360.0 538.6 355.5 538.1C351.1 537.6 346.3 537.3 342.1 538.1C337.9 538.8 333.4 540.3 330.1 542.6C326.9 544.8 324.9 548.3 322.6 551.5C320.4 554.8 319.2 559.3 316.7 562.0C314.2 564.7 311.2 566.7 307.7 568.0C304.2 569.2 299.7 569.5 295.7 569.5C291.7 569.5 287.2 567.7 283.8 568.0C280.3 568.2 277.8 569.2 274.8 571.0C271.8 572.7 269.0 576.6 265.8 578.5C262.6 580.3 259.1 581.9 255.3 582.2C251.6 582.4 247.1 581.3 243.4 579.9C239.6 578.6 236.1 576.2 232.9 574.0C229.7 571.7 226.7 569.5 223.9 566.5C221.2 563.5 218.6 559.5 216.5 556.0C214.3 552.5 211.7 549.3 211.2 545.5C210.7 541.8 212.6 537.3 213.5 533.6C214.3 529.8 216.5 526.9 216.5 523.1C216.5 519.4 213.7 515.1 213.5 511.1C213.2 507.2 213.5 502.9 215.0 499.2C216.5 495.4 220.2 492.5 222.4 488.7C224.7 485.0 227.4 481.0 228.4 476.7C229.4 472.5 227.7 467.5 228.4 463.3C229.2 459.0 230.4 454.8 232.9 451.3C235.4 447.8 239.4 444.6 243.4 442.3C247.4 440.1 252.6 439.4 256.8 437.9C261.1 436.4 265.1 435.4 268.8 433.4C272.5 431.4 275.3 427.9 279.3 425.9C283.3 423.9 288.5 421.9 292.7 421.4Z" fill="#37cd32"/>
<g filter="url(#fb)">
<ellipse cx="237.4" cy="497.7" rx="19.4" ry="16.5" fill="#a0de23" opacity="0.85"/>
<ellipse cx="283.8" cy="524.6" rx="20.9" ry="13.5" fill="#a0de23" opacity="0.85"/>
<ellipse cx="387.0" cy="479.7" rx="17.9" ry="8.2" fill="#a0de23" opacity="0.85"/>
<ellipse cx="271.8" cy="464.8" rx="15.0" ry="10.5" fill="#2dd05a" opacity="0.70"/>
<ellipse cx="313.7" cy="434.9" rx="46.4" ry="17.9" fill="#e8e220"/>
<ellipse cx="310.7" cy="429.6" rx="38.1" ry="13.2" fill="#ee821e"/>
<ellipse cx="315.2" cy="425.1" rx="20.9" ry="7.8" fill="#e42a1c"/>
<ellipse cx="244.1" cy="460.3" rx="20.9" ry="22.4" fill="#e8e220"/>
<ellipse cx="236.6" cy="457.3" rx="14.7" ry="18.7" fill="#eb6e1e"/>
<ellipse cx="316.7" cy="484.2" rx="16.5" ry="15.0" fill="#23d696"/>
<ellipse cx="361.5" cy="521.6" rx="20.6" ry="22.1" fill="#2dd4de"/>
<ellipse cx="301.7" cy="559.0" rx="22.4" ry="11.7" fill="#23d696"/>
<ellipse cx="342.1" cy="509.7" rx="13.5" ry="17.9" fill="#23d696" opacity="0.80"/>
<ellipse cx="363.0" cy="459.5" rx="13.5" ry="9.7" fill="#2dd4de"/>
<ellipse cx="371.3" cy="449.1" rx="13.2" ry="13.2" fill="#2d46de" transform="rotate(30 371.3 449.1)"/>
<ellipse cx="252.3" cy="562.0" rx="25.1" ry="28.1" fill="#e8e220"/>
<ellipse cx="252.3" cy="568.7" rx="17.6" ry="20.6" fill="#ee821e"/>
<ellipse cx="226.2" cy="536.6" rx="8.2" ry="22.4" fill="#2dd4de" transform="rotate(10 226.2 536.6)"/>
<ellipse cx="215.0" cy="542.6" rx="9.0" ry="22.7" fill="#2d46de" transform="rotate(10 215.0 542.6)"/>
<ellipse cx="404.9" cy="538.1" rx="22.7" ry="28.7" fill="#e8e220"/>
<ellipse cx="404.9" cy="542.6" rx="15.3" ry="24.2" fill="#ee821e"/>
<ellipse cx="431.1" cy="509.7" rx="14.2" ry="24.7" fill="#2dd4de" transform="rotate(-30 431.1 509.7)"/>
<ellipse cx="446.8" cy="517.1" rx="14.7" ry="26.2" fill="#3223cd" transform="rotate(-30 446.8 517.1)"/>
<ellipse cx="459.5" cy="515.6" rx="5.4" ry="11.7" fill="#e61edc" transform="rotate(-20 459.5 515.6)" opacity="0.90"/>
<ellipse cx="448.3" cy="484.2" rx="16.5" ry="11.2" fill="#e8e220" transform="rotate(30 448.3 484.2)"/>
<ellipse cx="452.8" cy="483.5" rx="12.0" ry="8.2" fill="#ee821e" transform="rotate(30 452.8 483.5)"/>
</g>
<path d="M292.7 421.4C297.0 420.9 300.7 421.7 304.7 422.9C308.7 424.2 313.4 427.6 316.7 428.9C319.9 430.1 321.1 430.9 324.1 430.4C327.1 429.9 331.1 426.8 334.6 425.9C338.1 425.0 341.6 424.6 345.1 425.1C348.6 425.6 352.3 427.0 355.5 428.9C358.8 430.8 361.5 434.4 364.5 436.4C367.5 438.4 371.0 438.6 373.5 440.9C376.0 443.1 377.2 447.3 379.5 449.8C381.7 452.3 384.0 454.9 387.0 455.8C389.9 456.7 393.7 454.8 397.4 455.1C401.2 455.3 405.7 455.9 409.4 457.3C413.1 458.7 416.9 460.8 419.9 463.3C422.9 465.8 424.1 470.3 427.3 472.3C430.6 474.3 435.3 473.8 439.3 475.3C443.3 476.7 447.8 478.5 451.3 481.2C454.8 484.0 458.0 487.7 460.2 491.7C462.5 495.7 464.0 500.7 464.7 505.2C465.5 509.7 465.7 513.9 464.7 518.6C463.7 523.4 461.5 529.3 458.7 533.6C456.0 537.8 452.0 541.1 448.3 544.1C444.5 547.0 440.3 549.0 436.3 551.5C432.3 554.0 428.3 557.3 424.3 559.0C420.4 560.8 416.4 562.0 412.4 562.0C408.4 562.0 403.9 560.8 400.4 559.0C396.9 557.3 394.4 554.0 391.4 551.5C388.5 549.0 386.2 545.8 382.5 544.1C378.7 542.3 373.5 542.1 369.0 541.1C364.5 540.1 360.0 538.6 355.5 538.1C351.1 537.6 346.3 537.3 342.1 538.1C337.9 538.8 333.4 540.3 330.1 542.6C326.9 544.8 324.9 548.3 322.6 551.5C320.4 554.8 319.2 559.3 316.7 562.0C314.2 564.7 311.2 566.7 307.7 568.0C304.2 569.2 299.7 569.5 295.7 569.5C291.7 569.5 287.2 567.7 283.8 568.0C280.3 568.2 277.8 569.2 274.8 571.0C271.8 572.7 269.0 576.6 265.8 578.5C262.6 580.3 259.1 581.9 255.3 582.2C251.6 582.4 247.1 581.3 243.4 579.9C239.6 578.6 236.1 576.2 232.9 574.0C229.7 571.7 226.7 569.5 223.9 566.5C221.2 563.5 218.6 559.5 216.5 556.0C214.3 552.5 211.7 549.3 211.2 545.5C210.7 541.8 212.6 537.3 213.5 533.6C214.3 529.8 216.5 526.9 216.5 523.1C216.5 519.4 213.7 515.1 213.5 511.1C213.2 507.2 213.5 502.9 215.0 499.2C216.5 495.4 220.2 492.5 222.4 488.7C224.7 485.0 227.4 481.0 228.4 476.7C229.4 472.5 227.7 467.5 228.4 463.3C229.2 459.0 230.4 454.8 232.9 451.3C235.4 447.8 239.4 444.6 243.4 442.3C247.4 440.1 252.6 439.4 256.8 437.9C261.1 436.4 265.1 435.4 268.8 433.4C272.5 431.4 275.3 427.9 279.3 425.9C283.3 423.9 288.5 421.9 292.7 421.4Z" fill="none" stroke="#002a10" stroke-opacity="0.38" stroke-width="9" filter="url(#fe)"/>
</g></g>
<g filter="url(#fs)"><g clip-path="url(#c_kaem)">
<path d="M577.2 416.9C580.5 416.7 584.2 417.4 587.7 418.4C591.2 419.4 594.9 421.7 598.2 422.9C601.4 424.2 603.9 426.0 607.1 425.9C610.4 425.8 613.9 423.0 617.6 422.2C621.3 421.3 625.6 420.3 629.6 420.7C633.6 421.0 638.0 422.5 641.5 424.4C645.0 426.3 647.5 429.9 650.5 431.9C653.5 433.9 656.7 434.1 659.5 436.4C662.2 438.6 664.5 442.8 667.0 445.3C669.5 447.8 671.2 449.8 674.4 451.3C677.7 452.8 682.2 453.3 686.4 454.3C690.6 455.3 695.4 456.3 699.9 457.3C704.3 458.3 709.3 458.6 713.3 460.3C717.3 462.0 720.8 464.8 723.8 467.8C726.8 470.8 729.5 475.5 731.3 478.2C733.0 481.0 732.3 483.0 734.3 484.2C736.3 485.5 740.5 484.2 743.2 485.7C746.0 487.2 748.8 490.2 750.7 493.2C752.6 496.2 754.2 499.9 754.5 503.7C754.7 507.4 753.8 512.1 752.2 515.6C750.6 519.1 746.7 521.9 744.7 524.6C742.7 527.4 742.0 529.6 740.2 532.1C738.5 534.6 737.3 537.8 734.3 539.6C731.3 541.3 726.3 541.8 722.3 542.6C718.3 543.3 714.3 543.1 710.3 544.1C706.3 545.1 702.4 547.3 698.4 548.5C694.4 549.8 690.4 551.2 686.4 551.5C682.4 551.9 678.4 551.5 674.4 550.8C670.4 550.0 666.2 548.2 662.5 547.0C658.7 545.9 656.0 545.3 652.0 544.1C648.0 542.8 643.0 540.6 638.5 539.6C634.1 538.6 629.1 537.6 625.1 538.1C621.1 538.6 617.6 540.3 614.6 542.6C611.6 544.8 609.6 548.5 607.1 551.5C604.6 554.5 602.6 558.3 599.7 560.5C596.7 562.7 592.9 564.5 589.2 565.0C585.4 565.5 581.0 563.6 577.2 563.5C573.5 563.4 570.2 563.2 566.7 564.2C563.3 565.2 559.8 568.0 556.3 569.5C552.8 571.0 549.5 573.0 545.8 573.2C542.1 573.5 537.6 572.3 533.8 571.0C530.1 569.6 526.9 567.5 523.4 565.0C519.9 562.5 515.6 559.3 512.9 556.0C510.2 552.8 508.2 549.3 506.9 545.5C505.7 541.8 504.9 537.1 505.4 533.6C505.9 530.1 510.2 527.6 509.9 524.6C509.7 521.6 505.4 519.1 503.9 515.6C502.4 512.1 500.7 507.7 500.9 503.7C501.2 499.7 503.4 495.2 505.4 491.7C507.4 488.2 511.7 486.2 512.9 482.7C514.2 479.2 512.7 475.0 512.9 470.8C513.2 466.5 512.9 461.3 514.4 457.3C515.9 453.3 518.6 449.8 521.9 446.8C525.1 443.8 529.6 441.4 533.8 439.4C538.1 437.4 543.1 436.9 547.3 434.9C551.5 432.9 555.8 429.9 559.3 427.4C562.8 424.9 565.3 421.7 568.2 419.9C571.2 418.2 574.0 417.2 577.2 416.9Z" fill="#37cd32"/>
<g filter="url(#fb)">
<ellipse cx="532.3" cy="517.1" rx="19.4" ry="15.0" fill="#a0de23" opacity="0.85"/>
<ellipse cx="569.7" cy="542.6" rx="20.9" ry="12.7" fill="#a0de23" opacity="0.85"/>
<ellipse cx="667.0" cy="532.1" rx="25.4" ry="12.0" fill="#a0de23" opacity="0.90"/>
<ellipse cx="689.4" cy="512.6" rx="17.9" ry="12.0" fill="#6ec828" opacity="0.80"/>
<path d="M652.0 439.4C658.2 437.9 665.7 449.8 674.4 452.8C683.2 455.8 695.9 454.8 704.3 457.3C712.8 459.8 720.1 463.0 725.3 467.8C730.5 472.5 735.3 480.7 735.8 485.7C736.3 490.7 733.5 497.4 728.3 497.7C723.0 497.9 712.1 489.5 704.3 487.2C696.6 485.0 688.1 483.2 681.9 484.2C675.7 485.2 673.2 493.7 667.0 493.2C660.7 492.7 649.5 486.5 644.5 481.2C639.5 476.0 635.8 468.8 637.0 461.8C638.3 454.8 645.8 440.9 652.0 439.4Z" fill="#2dd4de"/>
<ellipse cx="545.8" cy="440.9" rx="12.0" ry="7.8" fill="#2dd4de" transform="rotate(-20 545.8 440.9)" opacity="0.90"/>
<ellipse cx="599.7" cy="497.7" rx="11.2" ry="12.7" fill="#28d6be"/>
<ellipse cx="629.6" cy="473.8" rx="17.9" ry="13.5" fill="#23d696" opacity="0.70"/>
<ellipse cx="602.6" cy="434.9" rx="55.3" ry="23.2" fill="#e8e220"/>
<ellipse cx="572.7" cy="434.9" rx="18.7" ry="20.2" fill="#ee821e"/>
<ellipse cx="635.5" cy="434.9" rx="17.6" ry="17.6" fill="#ee821e"/>
<ellipse cx="598.2" cy="426.6" rx="35.1" ry="14.2" fill="#e42a1c" transform="rotate(3 598.2 426.6)"/>
<ellipse cx="604.1" cy="449.8" rx="17.9" ry="8.2" fill="#e8e220"/>
<ellipse cx="528.6" cy="464.8" rx="22.4" ry="23.9" fill="#e8e220"/>
<ellipse cx="521.1" cy="463.3" rx="15.7" ry="19.7" fill="#e4461e"/>
<ellipse cx="661.7" cy="441.6" rx="7.8" ry="9.3" fill="#2d46de" transform="rotate(30 661.7 441.6)"/>
<ellipse cx="741.0" cy="504.4" rx="16.2" ry="19.1" fill="#3223cd"/>
<ellipse cx="737.3" cy="500.7" rx="8.7" ry="9.3" fill="#7d23c8" opacity="0.90"/>
<ellipse cx="725.3" cy="521.6" rx="9.0" ry="6.0" fill="#2dd4de" transform="rotate(-30 725.3 521.6)" opacity="0.90"/>
<ellipse cx="722.3" cy="539.6" rx="17.2" ry="6.3" fill="#ee821e" transform="rotate(-5 722.3 539.6)"/>
<ellipse cx="521.9" cy="544.1" rx="7.5" ry="16.2" fill="#2dd4de" transform="rotate(15 521.9 544.1)"/>
<ellipse cx="510.7" cy="541.1" rx="9.0" ry="17.2" fill="#2d46de" transform="rotate(10 510.7 541.1)"/>
<ellipse cx="542.8" cy="562.0" rx="21.7" ry="15.7" fill="#e8e220"/>
<ellipse cx="542.8" cy="567.2" rx="15.7" ry="10.8" fill="#ee821e"/>
</g>
<path d="M577.2 416.9C580.5 416.7 584.2 417.4 587.7 418.4C591.2 419.4 594.9 421.7 598.2 422.9C601.4 424.2 603.9 426.0 607.1 425.9C610.4 425.8 613.9 423.0 617.6 422.2C621.3 421.3 625.6 420.3 629.6 420.7C633.6 421.0 638.0 422.5 641.5 424.4C645.0 426.3 647.5 429.9 650.5 431.9C653.5 433.9 656.7 434.1 659.5 436.4C662.2 438.6 664.5 442.8 667.0 445.3C669.5 447.8 671.2 449.8 674.4 451.3C677.7 452.8 682.2 453.3 686.4 454.3C690.6 455.3 695.4 456.3 699.9 457.3C704.3 458.3 709.3 458.6 713.3 460.3C717.3 462.0 720.8 464.8 723.8 467.8C726.8 470.8 729.5 475.5 731.3 478.2C733.0 481.0 732.3 483.0 734.3 484.2C736.3 485.5 740.5 484.2 743.2 485.7C746.0 487.2 748.8 490.2 750.7 493.2C752.6 496.2 754.2 499.9 754.5 503.7C754.7 507.4 753.8 512.1 752.2 515.6C750.6 519.1 746.7 521.9 744.7 524.6C742.7 527.4 742.0 529.6 740.2 532.1C738.5 534.6 737.3 537.8 734.3 539.6C731.3 541.3 726.3 541.8 722.3 542.6C718.3 543.3 714.3 543.1 710.3 544.1C706.3 545.1 702.4 547.3 698.4 548.5C694.4 549.8 690.4 551.2 686.4 551.5C682.4 551.9 678.4 551.5 674.4 550.8C670.4 550.0 666.2 548.2 662.5 547.0C658.7 545.9 656.0 545.3 652.0 544.1C648.0 542.8 643.0 540.6 638.5 539.6C634.1 538.6 629.1 537.6 625.1 538.1C621.1 538.6 617.6 540.3 614.6 542.6C611.6 544.8 609.6 548.5 607.1 551.5C604.6 554.5 602.6 558.3 599.7 560.5C596.7 562.7 592.9 564.5 589.2 565.0C585.4 565.5 581.0 563.6 577.2 563.5C573.5 563.4 570.2 563.2 566.7 564.2C563.3 565.2 559.8 568.0 556.3 569.5C552.8 571.0 549.5 573.0 545.8 573.2C542.1 573.5 537.6 572.3 533.8 571.0C530.1 569.6 526.9 567.5 523.4 565.0C519.9 562.5 515.6 559.3 512.9 556.0C510.2 552.8 508.2 549.3 506.9 545.5C505.7 541.8 504.9 537.1 505.4 533.6C505.9 530.1 510.2 527.6 509.9 524.6C509.7 521.6 505.4 519.1 503.9 515.6C502.4 512.1 500.7 507.7 500.9 503.7C501.2 499.7 503.4 495.2 505.4 491.7C507.4 488.2 511.7 486.2 512.9 482.7C514.2 479.2 512.7 475.0 512.9 470.8C513.2 466.5 512.9 461.3 514.4 457.3C515.9 453.3 518.6 449.8 521.9 446.8C525.1 443.8 529.6 441.4 533.8 439.4C538.1 437.4 543.1 436.9 547.3 434.9C551.5 432.9 555.8 429.9 559.3 427.4C562.8 424.9 565.3 421.7 568.2 419.9C571.2 418.2 574.0 417.2 577.2 416.9Z" fill="none" stroke="#002a10" stroke-opacity="0.38" stroke-width="9" filter="url(#fe)"/>
</g></g>
<line x1="762.6" y1="74" x2="762.6" y2="1440" stroke="#222" stroke-width="1.4" stroke-dasharray="1.3 1.3"/>
<line x1="1337" y1="74" x2="1337" y2="1440" stroke="#707070" stroke-width="3" stroke-dasharray="1.3 1"/>
<g stroke="#000" stroke-width="5.5" fill="none">
<path d="M196.6 63.7V1446.3"/>
<path d="M170 1443.6H1908.2"/>
<path d="M182.5 1305.9H197"/>
<path d="M169.8 1168.2H197"/>
<path d="M182.5 1030.4H197"/>
<path d="M169.8 892.7H197"/>
<path d="M182.5 755.0H197"/>
<path d="M169.8 617.3H197"/>
<path d="M182.5 479.6H197"/>
<path d="M169.8 341.8H197"/>
<path d="M182.5 204.1H197"/>
<path d="M169.8 66.4H197"/>
<path d="M196.4 1443.6V1456.8"/>
<path d="M367.3 1443.6V1470.8"/>
<path d="M538.2 1443.6V1456.8"/>
<path d="M709.1 1443.6V1470.8"/>
<path d="M880.0 1443.6V1456.8"/>
<path d="M1050.9 1443.6V1470.8"/>
<path d="M1221.8 1443.6V1456.8"/>
<path d="M1392.7 1443.6V1470.8"/>
<path d="M1563.6 1443.6V1456.8"/>
<path d="M1734.5 1443.6V1470.8"/>
<path d="M1905.4 1443.6V1456.8"/>
</g>
<polyline class="c" stroke="#000000" points="197.0,1442.0 503.0,1442.0 519.6,1434.5 553.0,1406.0 576.6,1375.8 620.0,1312.0 640.0,1268.6 660.0,1188.0 678.4,1116.0 685.0,1065.5 696.9,1001.9 710.3,924.8 727.0,830.9 742.0,750.4 749.8,732.0 772.3,731.3 788.4,737.0 795.8,784.0 812.5,831.0 848.4,865.0 884.6,809.0 918.0,782.3 928.0,807.4 933.0,851.0 941.6,924.8 950.0,992.0 961.7,1059.0 970.0,1113.0 981.8,1208.0 1008.6,1275.0 1015.3,1310.5 1028.8,1317.0 1055.6,1321.5 1080.7,1304.4 1122.6,1329.0 1156.0,1369.0 1183.0,1386.0 1206.4,1392.6 1230.0,1389.0 1280.0,1377.5 1320.0,1360.7 1326.7,1359.7 1390.4,1371.8 1407.0,1365.8 1437.3,1332.0 1464.0,1303.8 1496.0,1295.0 1506.0,1245.0 1514.4,1178.0 1521.0,1144.5 1525.0,1111.0 1532.9,1058.8 1548.0,908.0 1568.0,687.7 1597.6,727.0 1603.3,770.5 1613.3,820.8 1620.0,898.0 1625.0,1015.0 1635.0,1113.0 1658.6,1325.5 1667.0,1402.6 1675.0,1412.7 1698.8,1426.0 1712.0,1441.0 1730.0,1442.0 1906.0,1442.0"/>
<polyline class="c" stroke="#ff0000" points="197.0,1442.0 362.0,1442.0 395.6,1439.5 405.6,1435.5 435.8,1419.4 469.3,1399.0 486.0,1392.6 536.4,1386.6 570.0,1379.0 603.4,1382.5 630.0,1384.0 660.0,1375.8 710.3,1356.7 743.8,1363.0 772.3,1365.8 804.0,1293.7 814.0,1258.5 824.0,1178.0 832.0,1113.0 836.0,1079.0 844.4,1048.8 856.0,975.0 866.0,934.8 879.6,872.0 898.0,901.0 914.8,941.5 935.0,1008.5 945.0,1075.6 953.0,1113.0 963.4,1144.5 981.8,1220.0 1045.5,1238.4 1072.3,1272.0 1119.0,1317.0 1147.8,1325.5 1169.6,1342.3 1203.0,1369.0 1226.5,1387.6 1256.7,1375.8 1283.5,1357.4 1320.0,1350.7 1402.0,1347.3 1464.0,1312.0 1501.0,1305.4 1527.8,1278.6 1567.4,1254.5 1586.5,1268.6 1611.7,1302.0 1635.0,1365.8 1648.5,1396.0 1672.0,1412.7 1692.0,1429.5 1712.0,1439.0 1750.0,1440.3 1768.0,1442.0 1906.0,1442.0"/>
<polyline class="c" stroke="#ff00ff" points="197.0,1442.0 268.0,1442.0 278.0,1439.0 321.8,1431.0 340.0,1427.8 368.7,1406.7 402.0,1403.0 445.8,1394.0 479.4,1382.5 496.0,1369.0 529.7,1345.7 549.8,1315.5 578.0,1302.0 613.5,1240.0 630.0,1161.0 643.6,1111.0 660.0,1025.0 673.4,958.0 688.5,877.8 696.9,804.0 720.0,730.0 737.0,660.0 747.0,643.8 774.0,635.5 794.0,616.0 812.5,594.0 821.0,556.0 841.0,435.8 857.8,352.0 878.0,278.0 894.7,328.5 918.0,412.0 924.8,462.6 930.0,558.0 945.0,666.6 961.7,770.5 973.4,857.7 985.0,958.0 990.0,998.5 1018.7,1055.5 1048.9,1066.5 1087.4,1040.4 1124.3,1084.0 1139.4,1113.0 1156.0,1148.0 1193.0,1198.0 1243.3,1232.7 1280.0,1246.8 1301.0,1255.0 1320.0,1245.0 1336.8,1211.6 1370.3,1137.8 1378.7,1111.0 1388.7,1062.0 1454.0,1008.5 1476.0,951.5 1489.3,877.8 1514.4,804.0 1530.5,738.7 1564.7,787.0 1574.8,847.6 1598.0,931.5 1611.7,1005.0 1621.7,1113.0 1631.8,1211.6 1655.0,1298.7 1677.0,1359.0 1703.8,1399.0 1739.0,1416.0 1789.0,1438.0 1799.0,1442.0 1906.0,1442.0"/>
<polyline class="c" stroke="#00ff00" points="197.0,1442.0 445.8,1442.0 462.6,1434.5 503.0,1409.0 536.4,1389.0 570.0,1385.0 580.0,1387.6 606.8,1402.6 640.0,1411.0 660.0,1408.0 720.0,1400.0 750.5,1402.0 784.0,1396.6 810.9,1389.0 821.0,1382.5 834.0,1365.8 846.0,1335.6 857.8,1288.7 871.0,1221.6 879.6,1161.0 890.0,1113.0 901.4,1008.5 916.5,934.8 951.7,901.0 973.4,934.8 985.0,965.0 992.0,1002.0 1012.0,1069.0 1038.8,1113.0 1055.6,1132.8 1090.8,1079.0 1122.6,1113.0 1129.0,1129.4 1142.7,1221.6 1162.8,1298.7 1179.6,1355.7 1188.0,1389.0 1223.0,1409.0 1256.7,1401.0 1290.0,1386.0 1320.0,1389.0 1403.8,1390.0 1430.6,1386.0 1464.0,1375.8 1494.0,1374.0 1531.0,1362.4 1568.0,1339.0 1600.0,1330.6 1621.7,1359.0 1646.8,1389.0 1672.0,1412.7 1712.0,1441.0 1730.0,1442.0 1906.0,1442.0"/>
<polyline class="c" stroke="#0000ff" points="197.0,1442.0 442.5,1442.0 469.3,1424.4 503.0,1396.0 536.4,1380.0 603.4,1378.5 620.0,1386.0 660.0,1407.7 676.8,1417.7 710.3,1427.8 742.0,1428.8 772.3,1406.0 804.0,1372.5 824.0,1335.6 844.4,1292.0 861.0,1238.4 878.0,1144.5 889.0,1113.0 916.5,1043.8 950.0,1113.0 985.0,1179.7 1017.0,1158.0 1052.0,1198.0 1065.6,1221.6 1095.8,1278.6 1129.0,1339.0 1146.0,1372.5 1156.0,1396.0 1189.7,1414.4 1223.0,1389.0 1261.7,1366.4 1297.0,1382.5 1320.0,1393.0 1333.4,1406.0 1387.0,1397.6 1427.3,1395.3 1467.5,1386.6 1494.3,1362.4 1527.8,1330.6 1558.0,1328.0 1594.9,1342.3 1621.7,1375.8 1641.8,1402.6 1668.6,1412.7 1698.8,1429.5 1712.0,1441.0 1730.0,1442.0 1906.0,1442.0"/>
<polyline class="c" stroke="#ffff00" points="197.0,1442.0 419.0,1442.0 442.5,1436.0 469.3,1419.4 482.7,1392.6 503.0,1359.0 526.0,1325.5 546.4,1303.0 576.6,1302.8 603.4,1310.5 630.0,1318.8 650.0,1320.5 660.0,1325.0 680.0,1342.3 696.9,1362.4 717.0,1377.5 747.0,1373.0 780.7,1375.8 794.0,1394.0 814.0,1406.0 827.6,1411.0 846.0,1425.5 888.0,1426.0 928.0,1419.4 981.8,1409.4 1022.0,1406.0 1082.4,1421.0 1122.6,1424.4 1142.7,1406.0 1193.0,1367.5 1230.0,1389.0 1260.0,1404.0 1290.0,1387.6 1320.0,1396.0 1333.4,1399.0 1393.7,1373.5 1427.3,1377.5 1464.0,1360.7 1494.3,1359.0 1524.5,1345.7 1541.0,1329.0 1563.0,1306.0 1598.0,1311.5 1611.7,1325.5 1628.4,1365.8 1645.0,1396.0 1668.6,1422.8 1698.8,1441.0 1720.0,1442.0 1906.0,1442.0"/>
<path class="dd" stroke="#000000" d="M224.6 1419.4L245.0 1421.5M270.0 1413.3L271.5 1412.7L284.1 1398.6M304.0 1375.4L314.8 1358.0M333.1 1328.6L335.0 1325.5L343.4 1310.9M359.4 1283.1L362.0 1278.6L370.7 1266.0M389.7 1238.3L392.0 1235.0L400.4 1220.8M416.9 1193.0L425.7 1178.0L427.7 1175.6M448.3 1150.4L449.0 1149.5L463.9 1137.2M494.4 1146.3L514.5 1149.9M541.1 1149.6L543.0 1149.5L558.7 1139.5M587.7 1121.0L603.4 1111.0L604.6 1109.6M626.2 1085.4L639.9 1070.1M659.1 1043.2L660.0 1042.0L670.2 1026.0M691.7 1015.7L693.5 1015.0L710.0 1017.0L711.1 1015.4M731.8 981.9L742.2 964.3M748.0 930.7L748.8 924.8L750.6 910.4M754.7 876.3L757.0 857.7L757.2 855.9M760.3 824.5L762.0 807.4L762.5 804.1M767.4 771.5L770.5 751.2M775.0 718.2L777.0 703.5L777.7 697.9M782.0 665.3L784.0 650.0L784.4 644.9M787.2 611.7L788.9 591.3M792.2 558.1L792.4 556.0L794.1 537.7M797.3 504.5L797.4 503.0L799.3 484.1M802.4 452.6L804.4 432.2M807.6 399.4L809.0 385.5L809.9 379.0M814.1 347.6L816.9 327.3M821.5 293.5L824.0 275.0L824.3 273.2M829.9 241.7L833.4 221.5M841.5 188.4L846.5 168.6M858.8 195.0L861.0 201.0L863.8 214.8M870.4 247.4L874.4 267.5M881.0 300.9L884.9 321.0M891.3 353.7L894.4 373.9M899.5 406.9L901.4 419.0L901.9 427.2M903.8 459.9L904.7 476.0L905.1 480.3M907.8 513.0L909.5 533.4M914.8 562.7L925.4 580.2M939.2 605.8L948.7 623.9M959.9 596.2L966.1 576.6M971.7 543.8L971.8 543.0L977.0 524.0M985.8 491.7L991.2 471.9M999.3 439.5L1004.2 419.6M1012.0 387.7L1015.0 375.5L1017.1 367.8M1025.3 337.7L1028.8 325.0L1031.8 318.3M1045.7 288.1L1055.2 270.0M1083.6 273.0L1091.9 291.7M1102.2 323.2L1105.9 335.0L1107.4 343.0M1113.4 375.2L1116.0 389.0L1118.0 395.1M1128.2 425.7L1132.7 439.0L1134.3 445.2M1143.3 479.1L1146.0 489.5L1147.8 499.1M1153.8 531.2L1156.0 543.0L1157.4 551.4M1163.0 583.5L1167.7 603.4M1175.3 635.1L1178.0 646.5L1180.0 655.1M1187.4 686.9L1189.7 696.8L1191.7 706.9M1198.1 738.9L1199.7 747.0L1202.6 758.9M1210.5 790.5L1213.0 800.7L1215.3 810.4M1222.8 842.2L1224.9 851.0L1228.8 861.7M1240.1 892.3L1243.3 901.0L1246.8 911.7M1260.9 923.8L1273.7 907.8M1290.2 884.2L1297.0 874.5L1303.5 868.7M1333.9 844.8L1351.8 836.0L1352.0 835.5M1363.6 805.6L1371.2 786.6M1382.8 755.2L1389.8 736.0M1400.9 705.3L1407.8 686.0M1419.0 655.7L1426.0 636.5M1433.1 641.7L1444.5 658.7M1459.4 687.0L1468.5 705.4M1482.0 737.1L1489.8 756.0M1509.5 779.7L1528.5 787.3M1542.6 816.8L1549.3 836.2M1560.0 867.4L1566.6 886.8M1572.8 919.4L1576.2 939.6M1581.6 972.5L1584.8 992.0L1584.9 992.7M1590.6 1024.4L1594.1 1044.5M1599.5 1078.2L1602.7 1098.5M1607.1 1130.5L1611.6 1150.6M1619.6 1181.0L1624.8 1200.8M1634.5 1233.3L1635.0 1235.0L1640.7 1252.8M1649.7 1280.9L1650.0 1282.0L1665.7 1293.3M1689.7 1319.7L1704.1 1334.1M1725.5 1358.3L1729.0 1362.4L1737.4 1374.9M1760.3 1397.4L1776.0 1410.6M1801.8 1432.0L1802.7 1432.8L1816.0 1441.0L1819.7 1441.3"/>
<path class="dd" stroke="#ff0000" d="M228.0 1441.0L248.4 1438.5M279.6 1434.7L281.6 1434.5L298.9 1427.9M319.2 1401.3L328.8 1383.2M343.8 1354.8L348.6 1345.7L353.5 1336.8M369.6 1307.2L379.8 1289.4M395.6 1261.8L408.0 1245.5M428.3 1218.9L429.0 1218.0L443.3 1205.0M467.3 1183.2L469.3 1181.4L483.5 1170.7M510.8 1149.5L523.8 1133.7M547.0 1113.3L549.8 1111.0L557.8 1096.2M583.0 1085.7L600.2 1096.9M630.1 1113.0L643.0 1118.0L646.4 1112.2M662.7 1084.2L672.6 1066.3M686.8 1035.8L688.5 1032.0L694.9 1016.9M707.6 986.6L714.4 967.3M725.4 936.1L727.0 931.5L730.6 916.3M738.1 883.9L738.8 881.0L741.8 863.7M747.6 830.8L748.8 824.0L750.5 810.5M754.6 777.9L755.5 770.5L756.8 757.5M760.3 723.4L760.6 720.0L762.3 703.0M765.5 671.5L767.0 656.6L767.7 651.1M771.7 618.2L774.0 599.6L774.3 597.9M779.3 565.1L780.7 556.0L782.0 544.8M785.8 511.9L787.5 491.5M790.1 460.2L790.7 452.6L792.0 439.8M795.5 404.7L795.8 402.0L797.6 384.3M800.6 354.2L800.8 352.0L801.3 333.7M802.4 299.6L802.5 295.0L803.8 279.1M806.5 246.5L807.5 234.7L808.8 226.1M813.8 192.4L814.0 191.0L822.6 173.9M836.3 146.8L837.7 144.0L847.7 129.8M857.0 163.9L857.8 167.6L860.4 184.1M865.5 218.5L867.8 234.7L868.5 238.8M873.8 271.5L876.0 285.0L877.2 291.7M882.8 324.6L884.6 335.0L886.8 344.7M894.2 376.5L894.7 378.8L898.3 396.6M904.8 428.2L906.4 435.8L908.3 448.4M913.0 480.8L914.8 492.8L918.2 500.5M931.3 527.5L943.3 544.1M969.3 561.2L971.8 562.7L981.8 563.0L985.4 556.4M1003.5 520.2L1008.7 500.3M1015.3 475.0L1020.4 455.1M1028.5 423.4L1028.8 422.4L1033.4 403.5M1041.0 372.9L1042.0 368.8L1046.7 353.2M1056.2 321.1L1059.0 311.8L1062.2 301.5M1072.1 269.5L1075.7 258.0L1079.7 250.6M1088.6 233.7L1089.0 233.0L1100.6 248.8M1119.0 281.8L1125.8 301.1M1134.2 332.6L1139.4 352.0L1139.5 352.4M1149.0 383.8L1154.5 402.0L1154.8 403.5M1161.6 435.3L1165.9 455.3M1171.2 488.7L1174.5 509.0M1177.5 539.3L1179.6 559.7M1185.3 589.7L1189.1 609.8M1194.4 643.2L1197.5 663.5M1202.5 700.0L1204.8 717.0L1205.1 720.3M1207.9 750.4L1209.8 770.5L1209.8 770.8M1214.2 805.8L1216.5 824.0L1217.1 826.1M1225.6 857.9L1230.0 874.5L1231.1 877.7M1241.0 907.7L1246.7 924.8L1247.6 927.1M1258.8 952.6L1270.5 935.8M1288.6 910.0L1297.0 898.0L1300.3 893.1M1319.7 864.5L1320.0 864.0L1330.0 847.6L1330.6 847.2M1355.7 829.2L1371.3 815.9M1396.1 794.8L1397.0 794.0L1412.5 782.4M1445.2 779.3L1465.2 783.9M1487.7 760.5L1507.5 766.0M1534.7 779.7L1539.4 799.7M1543.4 830.9L1544.6 841.0L1546.8 851.1M1553.4 882.6L1557.6 902.6M1565.6 935.0L1568.0 944.9L1570.4 955.0M1577.9 986.9L1579.8 995.0L1582.5 1006.9M1588.7 1038.4L1591.9 1058.7M1595.9 1090.7L1598.0 1109.0L1598.3 1111.0M1603.9 1144.4L1606.6 1161.0L1607.2 1164.6M1613.0 1196.8L1615.0 1208.0L1617.3 1216.8M1625.5 1247.7L1628.4 1258.5L1633.1 1266.6M1649.7 1294.8L1650.0 1295.4L1660.2 1312.4M1678.6 1338.8L1695.6 1350.3M1722.3 1369.2L1739.4 1380.5M1761.0 1401.0L1762.5 1402.6L1777.1 1413.6M1808.3 1435.0L1809.0 1435.5L1828.6 1435.9M1863.4 1438.0L1883.7 1440.3"/>
<path class="dd" stroke="#00ff00" d="M224.6 1424.4L245.1 1425.8M274.5 1421.1L275.0 1421.0L292.9 1412.0M320.9 1396.5L321.8 1396.0L335.0 1382.5L335.4 1382.0M354.1 1356.9L355.0 1355.7L368.5 1342.4M390.4 1317.4L392.0 1315.5L404.8 1302.8M431.7 1282.6L432.5 1282.0L445.8 1278.6L451.5 1279.4M481.3 1283.4L482.7 1283.6L499.8 1292.1M526.8 1309.1L545.9 1316.5M576.6 1320.5L594.3 1310.2M619.3 1311.9L620.0 1312.0L637.0 1322.0M658.9 1341.4L660.0 1342.3L672.7 1356.5M698.2 1351.6L713.6 1342.3L714.1 1339.8M720.2 1307.4L723.5 1287.2M728.8 1254.2L732.6 1234.1M738.8 1201.5L741.9 1181.2M747.0 1148.3L754.8 1129.4M758.7 1097.0L759.0 1092.4L760.6 1076.5M764.0 1041.7L765.2 1021.2M767.8 989.7L774.9 970.5M780.4 936.8L780.7 934.8L794.5 922.6M817.2 906.3L817.6 906.0L826.2 924.1M837.4 957.2L837.7 958.0L845.3 976.1M871.8 992.2L891.4 998.0M918.4 991.2L928.1 973.1M938.8 943.2L947.3 924.6M951.6 891.6L951.7 891.0L955.9 871.5M960.0 839.7L962.4 819.4M966.1 785.5L968.3 765.2M971.6 732.1L971.8 730.0L974.8 711.8M980.1 679.4L983.9 659.2M990.0 626.4L994.0 606.3M1000.3 573.5L1003.0 553.2M1007.2 520.1L1008.6 509.6L1011.3 500.1M1019.3 472.0L1022.0 462.6L1024.4 452.2M1031.8 419.8L1032.0 419.0L1037.0 400.0M1045.4 368.3L1048.9 355.0L1050.9 348.5M1060.8 317.2L1065.6 301.7L1067.1 297.7M1078.7 267.5L1082.4 258.0L1089.6 250.6M1116.6 266.5L1117.6 268.0L1123.9 285.6M1131.5 319.2L1132.7 325.0L1134.4 339.5M1138.3 371.4L1143.3 391.3M1149.2 424.4L1149.4 425.7L1155.4 443.9M1157.9 477.4L1159.2 497.8M1161.8 530.4L1162.8 543.0L1163.4 550.8M1166.1 583.3L1168.7 603.7M1172.9 636.0L1173.0 636.5L1174.9 656.4M1177.9 688.9L1178.0 690.0L1179.9 709.3M1183.3 741.8L1186.2 762.1M1190.9 794.4L1191.3 797.4L1194.2 814.6M1199.8 848.8L1201.9 869.2M1205.0 900.6L1206.2 921.1M1208.2 953.8L1210.0 974.2M1212.7 1004.7L1213.0 1008.5L1219.5 1023.8M1226.9 1058.3L1229.9 1078.6M1240.4 1112.4L1246.5 1132.0M1256.7 1164.6L1268.1 1147.5M1283.9 1123.4L1290.8 1104.2M1302.6 1071.8L1303.6 1069.0L1308.5 1052.2M1323.4 1008.2L1326.7 1003.5L1340.2 997.5M1356.2 990.3L1356.9 990.0L1375.0 982.2M1399.2 964.6L1414.2 950.6M1433.4 944.3L1441.0 962.0L1441.6 963.1M1456.0 992.6L1463.3 1011.8M1471.7 1043.1L1474.0 1052.0L1476.3 1063.0M1479.5 1095.2L1481.0 1115.7M1486.3 1147.0L1489.7 1167.2M1498.9 1201.0L1499.0 1201.5L1504.7 1220.7M1514.3 1251.4L1514.4 1251.8L1519.9 1271.1M1529.8 1302.7L1536.7 1322.0M1553.1 1348.2L1558.0 1355.7L1566.7 1363.3M1596.2 1382.3L1596.6 1382.5L1614.8 1390.9M1644.6 1406.8L1664.3 1412.7M1692.9 1428.6L1710.0 1439.7M1742.6 1442.0L1763.1 1442.0M1795.9 1442.0L1816.4 1442.0M1849.1 1442.0L1869.6 1442.0M1902.4 1442.0L1906.0 1442.0"/>
<path class="dd" stroke="#0000ff" d="M196.4 1442.0L216.9 1442.0M249.0 1442.0L269.5 1442.0M301.3 1442.0L301.7 1442.0L318.9 1431.6M338.4 1408.0L338.6 1407.7L350.3 1391.3M368.1 1363.3L368.7 1362.4L379.4 1346.2M395.8 1315.2L408.6 1299.2M433.1 1280.0L439.0 1277.0L452.8 1278.7M481.7 1291.5L482.7 1292.0L500.5 1299.6M535.9 1309.3L553.0 1312.0L556.0 1311.1M584.0 1303.1L603.4 1304.8L604.2 1305.4M631.1 1326.6L644.9 1341.7M662.0 1369.0L678.4 1381.3M701.0 1357.9L714.7 1342.6M720.2 1307.7L724.0 1287.5M728.8 1254.5L732.6 1234.4M738.8 1201.7L743.0 1181.7M746.9 1148.5L747.0 1148.0L751.1 1128.5M753.8 1096.7L753.9 1095.7L758.0 1076.7M760.6 1041.9L763.6 1021.6M767.0 988.7L767.0 988.4L771.2 968.7M775.7 938.3L779.9 918.2M787.0 886.3L787.4 884.5L793.7 866.9M800.7 834.4L800.8 834.0L807.0 815.0M815.3 802.2L825.4 820.0M837.5 850.5L837.7 851.0L847.2 868.6M859.7 900.0L867.7 918.8M881.4 948.3L888.0 953.0L899.7 949.1M924.1 928.6L924.8 928.0L930.5 909.3M940.0 877.9L946.5 858.5M951.5 825.7L951.7 824.0L956.9 806.0M963.8 771.9L968.1 751.9M971.7 720.7L971.8 720.0L978.9 701.5M987.2 668.9L994.0 649.5M1002.8 616.9L1008.3 597.2M1020.3 565.6L1028.5 546.8M1039.4 514.8L1048.6 496.5M1057.1 468.8L1066.5 450.6M1077.7 418.4L1085.7 399.5M1096.0 370.1L1107.1 352.9M1122.4 326.6L1123.0 327.0L1132.4 344.5M1148.2 373.7L1153.1 393.5M1159.5 425.5L1165.0 445.3M1168.0 478.9L1172.2 499.0M1175.8 531.0L1176.0 533.0L1178.8 551.3M1180.4 583.5L1180.9 604.0M1183.0 636.2L1184.4 656.6M1191.6 688.1L1196.0 708.1M1198.3 741.6L1202.0 761.8M1205.5 794.3L1207.4 814.8M1210.0 848.8L1212.7 869.1M1211.6 901.9L1212.8 922.4M1214.8 954.9L1216.1 975.3M1217.9 1007.2L1218.0 1008.5L1222.0 1027.3M1226.5 1058.8L1231.3 1078.7M1237.7 1109.5L1238.0 1111.0L1242.8 1129.3M1248.2 1165.3L1253.7 1185.1M1258.1 1211.5L1273.4 1198.0M1299.1 1170.3L1310.9 1153.6M1327.1 1124.0L1341.6 1109.4M1364.3 1093.9L1365.0 1094.0L1382.5 1103.4M1409.4 1089.8L1410.5 1089.0L1426.4 1078.4M1441.7 1053.5L1444.0 1048.8L1451.3 1035.4M1468.0 1033.0L1477.2 1051.3M1489.9 1078.3L1498.5 1096.9M1503.6 1130.7L1509.7 1150.3M1513.3 1183.9L1517.1 1204.1M1521.7 1236.7L1529.7 1255.6M1539.7 1285.6L1547.8 1304.5M1565.1 1331.4L1568.0 1335.6L1576.3 1348.5M1601.9 1372.0L1619.4 1382.6M1645.6 1397.5L1650.0 1400.0L1663.8 1406.9M1697.6 1423.8L1698.8 1424.4L1717.1 1430.0M1751.8 1439.7L1760.0 1442.0L1772.0 1442.0M1803.5 1442.0L1824.0 1442.0M1857.7 1442.0L1878.2 1442.0"/>
<text class="tk" transform="translate(150.0 1459.6) scale(1 1.070)" text-anchor="end">0</text>
<text class="tk" transform="translate(150.0 1184.2) scale(1 1.070)" text-anchor="end">5</text>
<text class="tk" transform="translate(150.0 908.7) scale(1 1.070)" text-anchor="end">10</text>
<text class="tk" transform="translate(150.0 633.3) scale(1 1.070)" text-anchor="end">15</text>
<text class="tk" transform="translate(150.0 357.8) scale(1 1.070)" text-anchor="end">20</text>
<text class="tk" transform="translate(150.0 82.4) scale(1 1.070)" text-anchor="end">25</text>
<text class="tk" transform="translate(366.3 1528.5) scale(1 1.070)" text-anchor="middle">-0.02</text>
<text class="tk" transform="translate(708.1 1528.5) scale(1 1.070)" text-anchor="middle">-0.01</text>
<text class="tk" transform="translate(1049.9 1528.5) scale(1 1.070)" text-anchor="middle">0.00</text>
<text class="tk" transform="translate(1391.7 1528.5) scale(1 1.070)" text-anchor="middle">0.01</text>
<text class="tk" transform="translate(1733.5 1528.5) scale(1 1.070)" text-anchor="middle">0.02</text>
<text class="tk" transform="translate(1051.0 1640.0) scale(1 1.070)" text-anchor="middle">σ(e/Å2)</text>
<text class="tk" transform="translate(69 755) rotate(-90) scale(1.03 1.06)" text-anchor="middle">p(σ)</text>
<text class="tk" transform="translate(750.0 62.8) scale(1 1.070)" text-anchor="middle">-0.0084</text>
<text class="tk" transform="translate(1339.0 62.8) scale(1 1.070)" text-anchor="middle">0.0084</text>
<text class="rg" transform="translate(462.5 99.2) scale(1 1.050)" text-anchor="middle" style="fill:#ff0000">HBD region</text>
<text class="rg" transform="translate(1063.0 99.2) scale(1 1.050)" text-anchor="middle" style="fill:#008000">Non-polar region</text>
<text class="rg" transform="translate(1609.0 100.4) scale(1 1.050)" text-anchor="middle" style="fill:#0000ff">HBA region</text>
<path d="M1646 168.6H1734" stroke="#000" stroke-width="4.6" stroke-linecap="round" fill="none"/>
<text class="lg" transform="translate(1745.0 181.2) scale(1 1.030)" text-anchor="start">ChCl</text>
<path d="M1646 217.4H1734" stroke="#ff0000" stroke-width="4.6" stroke-linecap="round" fill="none"/>
<text class="lg" transform="translate(1745.0 230.0) scale(1 1.030)" text-anchor="start">EG</text>
<path d="M1646 266.2H1734" stroke="#ff00ff" stroke-width="4.6" stroke-linecap="round" fill="none"/>
<text class="lg" transform="translate(1745.0 278.8) scale(1 1.030)" text-anchor="start">ChCl-EG</text>
<path d="M1646 315.0H1734" stroke="#00ff00" stroke-width="4.6" stroke-linecap="round" fill="none"/>
<text class="lg" transform="translate(1745.0 327.6) scale(1 1.030)" text-anchor="start">Ethanol</text>
<path d="M1646 363.8H1734" stroke="#0000ff" stroke-width="4.6" stroke-linecap="round" fill="none"/>
<text class="lg" transform="translate(1745.0 376.4) scale(1 1.030)" text-anchor="start">Methanol</text>
<path d="M1646 412.6H1734" stroke="#ffff00" stroke-width="4.6" stroke-linecap="round" fill="none"/>
<text class="lg" transform="translate(1745.0 425.2) scale(1 1.030)" text-anchor="start">Water</text>
<path d="M1646 461.4H1668.5M1699 461.4H1722.5" stroke="#000" stroke-width="4.6" stroke-linecap="round" fill="none"/>
<text class="lg" transform="translate(1745.0 474.0) scale(1 1.030)" text-anchor="start">Rutin</text>
<path d="M1646 510.2H1668.5M1699 510.2H1722.5" stroke="#ff0000" stroke-width="4.6" stroke-linecap="round" fill="none"/>
<text class="lg" transform="translate(1745.0 522.8) scale(1 1.030)" text-anchor="start">Nicotiflorin</text>
<path d="M1646 559.0H1668.5M1699 559.0H1722.5" stroke="#00ff00" stroke-width="4.6" stroke-linecap="round" fill="none"/>
<text class="lg" transform="translate(1745.0 571.6) scale(1 1.030)" text-anchor="start">Quercetin</text>
<path d="M1646 607.8H1668.5M1699 607.8H1722.5" stroke="#0000ff" stroke-width="4.6" stroke-linecap="round" fill="none"/>
<text class="lg" transform="translate(1745.0 620.4) scale(1 1.030)" text-anchor="start">Kaempferol</text>
<text class="ml" transform="translate(334.0 376.5)" text-anchor="middle">Rutin</text>
<text class="ml" transform="translate(618.5 376.5)" text-anchor="middle">Nicotiflorin</text>
<text class="ml" transform="translate(334.0 617.5)" text-anchor="middle">Quercetin</text>
<text class="ml" transform="translate(617.5 617.5)" text-anchor="middle">Kaempferol</text>
</svg></body></html>
